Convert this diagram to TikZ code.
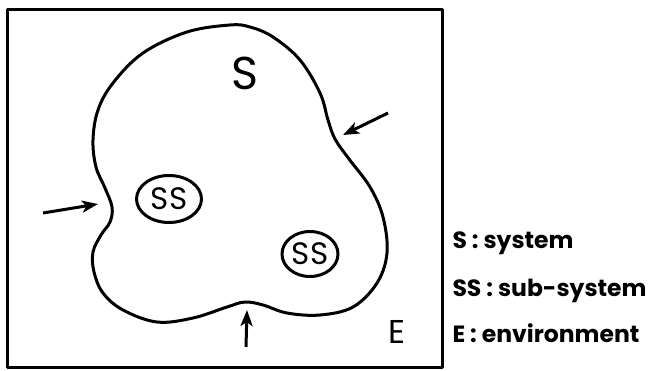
\documentclass[tikz,border=0pt]{standalone}
\usepackage{fontspec}
\setmainfont{Poppins}
\usetikzlibrary{arrows.meta,shapes.geometric}
\tikzset{
  flow/.style={-{Stealth[length=16pt,width=12pt,inset=4pt]},line width=3pt},
  subsys/.style={draw,ellipse,line width=3pt,inner sep=0pt,font=\fontsize{31}{33}\selectfont},
  legend/.style={anchor=west,inner sep=0pt,font=\bfseries\fontsize{23.5}{25}\selectfont}
}
\begin{document}
\begin{tikzpicture}[x=1pt,y=-1pt,line width=3pt,line join=round]
\useasboundingbox (0,0) rectangle (661,370);
\draw (7,9) rectangle (442,367);
% system boundary
\draw plot[smooth cycle,tension=.6] coordinates {(230,25) (187,32) (143,53) (113,83) (98,110) (93,140)
 (96,167) (105,188) (112,207) (110,222) (101,235) (93,252) (94,272) (103,293) (123,310) (157,322) (193,318)
 (227,307) (245,302) (263,305) (287,313) (320,315) (353,307) (377,283) (387,253) (383,217)
 (370,187) (349,159) (335,139) (328,120) (320,93) (300,60) (273,37) (250,27)};
\node[font=\fontsize{46}{48}\selectfont] (s) at (245,73) {S};
\node[font=\fontsize{33}{35}\selectfont] (e) at (397,332) {E};
\node[subsys,minimum width=65pt,minimum height=47pt] (ss1) at (169,199) {SS};
\node[subsys,minimum width=56pt,minimum height=45pt] (ss2) at (310,254) {SS};
% inputs from the environment
\coordinate (l0) at (43,213); \coordinate (l1) at (98,204);
\coordinate (r0) at (388,113); \coordinate (r1) at (343,135);
\coordinate (b0) at (246,347); \coordinate (b1) at (247,310);
\draw[flow] (l0)--(l1); \draw[flow] (r0)--(r1); \draw[flow] (b0)--(b1);
% legend
\foreach \y/\t in {243/S : system,291/SS : sub-system,333/E : environment}{\node[legend] at (451,\y) {\t};}
\end{tikzpicture}
\end{document}
